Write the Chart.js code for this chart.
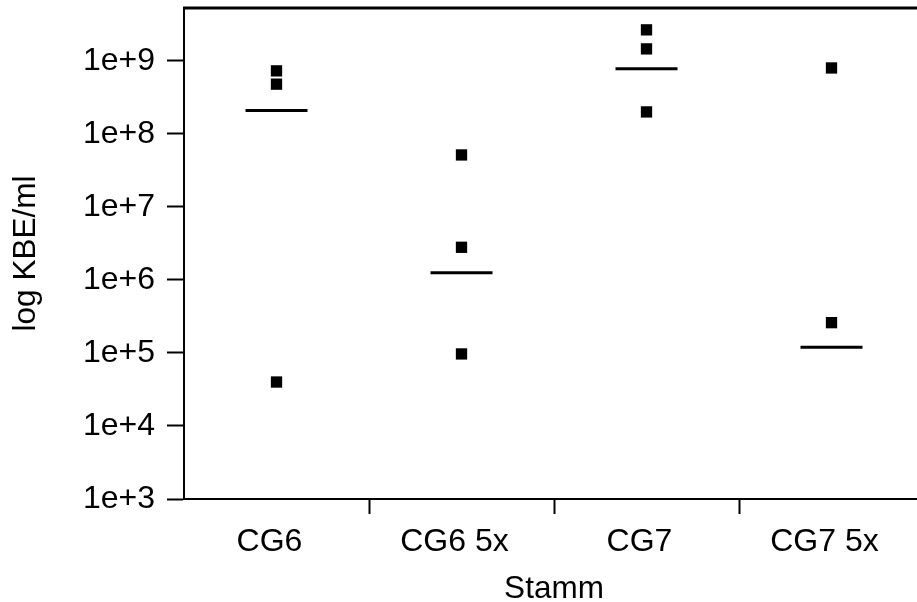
<!DOCTYPE html>
<html>
<head>
<meta charset="utf-8">
<script src="https://cdn.jsdelivr.net/npm/chart.js@4/dist/chart.umd.min.js"></script>
<style>
  html, body { margin: 0; padding: 0; background: #fff; overflow: hidden; width: 917px; height: 602px; }
  #wrap { width: 926px; height: 602px; }
</style>
</head>
<body>
<div id="wrap"><canvas id="c" width="926" height="602"></canvas></div>
<script>
// ---- data ----
const categories = ['CG6', 'CG6 5x', 'CG7', 'CG7 5x'];
const valuesCG6   = [7.3e8, 4.8e8, 4.0e4];
const valuesCG65x = [5.15e7, 2.8e6, 9.7e4];
const valuesCG7   = [2.66e9, 1.46e9, 2.0e8];
const valuesCG75x = [8.0e8, 2.6e5];
const meanValues  = [2.1e8, 1.25e6, 7.8e8, 1.2e5];
const tickExponents = [3, 4, 5, 6, 7, 8, 9];
const yTitle = 'log KBE/ml';
const xTitle = 'Stamm';

const seriesByCategory = [valuesCG6, valuesCG65x, valuesCG7, valuesCG75x];
const pointData = [];
seriesByCategory.forEach((vals, i) => vals.forEach(v => pointData.push({x: categories[i], y: v})));
const meanData = meanValues.map((v, i) => ({x: categories[i], y: v}));

const FONT = "'Liberation Sans', Arial, sans-serif";

const topBorder = {
  id: 'topBorder',
  afterDraw(chart) {
    const {ctx, chartArea} = chart;
    ctx.save();
    ctx.strokeStyle = '#000';
    ctx.lineWidth = 3;
    ctx.beginPath();
    ctx.moveTo(chartArea.left - 1, chartArea.top);
    ctx.lineTo(chartArea.right, chartArea.top);
    ctx.stroke();
    ctx.restore();
  }
};

new Chart(document.getElementById('c'), {
  type: 'line',
  data: {
    labels: categories,
    datasets: [
      {
        label: 'Werte',
        data: pointData,
        showLine: false,
        pointStyle: 'rect',
        pointRadius: 8,
        pointHoverRadius: 8,
        pointBorderWidth: 0,
        backgroundColor: '#000',
        borderColor: '#000'
      },
      {
        label: 'Mittelwert',
        data: meanData,
        showLine: false,
        pointStyle: 'line',
        pointRadius: 31,
        pointHoverRadius: 31,
        pointBorderWidth: 3,
        backgroundColor: '#000',
        borderColor: '#000'
      }
    ]
  },
  options: {
    responsive: false,
    animation: false,
    devicePixelRatio: 1,
    layout: { autoPadding: false, padding: { left: 0, right: 2, top: 8, bottom: 0 } },
    plugins: { legend: { display: false }, tooltip: { enabled: false } },
    scales: {
      x: {
        type: 'category',
        offset: true,
        grid: {
          offset: true,
          drawOnChartArea: false,
          drawTicks: true,
          tickLength: 15,
          tickWidth: 2,
          tickColor: (ctx) => ctx.index === 0 ? 'rgba(0,0,0,0)' : '#000'
        },
        border: { display: true, color: '#000', width: 2 },
        ticks: {
          color: '#000',
          font: { family: FONT, size: 32 },
          padding: 9,
          labelOffset: -7,
          autoSkip: false,
          maxRotation: 0
        },
        title: {
          display: true,
          text: xTitle,
          color: '#000',
          font: { family: FONT, size: 31.5, lineHeight: 0.8 },
          padding: { top: 0, bottom: 0 }
        },
        afterFit: (scale) => { scale.height = 103; scale.paddingLeft = 0; scale.paddingRight = 0; }
      },
      y: {
        type: 'logarithmic',
        min: 1e3,
        max: 5.3e9,
        grid: {
          drawOnChartArea: false,
          drawTicks: true,
          tickLength: 17,
          tickWidth: 2,
          tickColor: '#000'
        },
        border: { display: true, color: '#000', width: 2 },
        afterBuildTicks: (scale) => {
          scale.ticks = tickExponents.map(e => ({ value: Math.pow(10, e) }));
        },
        ticks: {
          color: '#000',
          font: { family: FONT, size: 32 },
          padding: 12,
          autoSkip: false,
          callback: (v) => '1e+' + Math.round(Math.log10(v))
        },
        title: {
          display: true,
          text: yTitle,
          color: '#000',
          font: { family: FONT, size: 31.5 },
          padding: { top: 7, bottom: 0 }
        },
        afterFit: (scale) => { scale.width = 184; scale.paddingTop = 0; scale.paddingBottom = 0; }
      }
    }
  },
  plugins: [topBorder]
});
</script>
</body>
</html>
